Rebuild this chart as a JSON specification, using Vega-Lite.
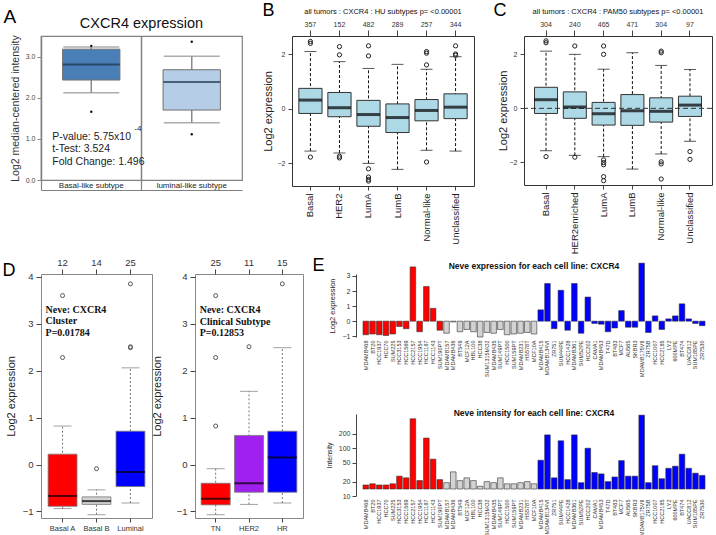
{
"$schema":"https://vega.github.io/schema/vega-lite/v6.json",
"autosize":{"type":"none"},
"padding":{"left":41,"top":36,"right":675,"bottom":499},
"background":"white",
"config":{"font":"Liberation Sans","view":{"stroke":null},"axis":{"labelFont":"Liberation Sans","titleFont":"Liberation Sans","titleFontWeight":"normal","grid":false,"labelColor":"#333","titleColor":"#222","tickColor":"#444","domainColor":"#444"},"title":{"font":"Liberation Sans","fontWeight":"normal","color":"#111","frame":"group"}},
"datasets":{
"A_box":[{"cat":"Basal-like subtype","low":2.12,"q1":2.43,"med":2.81,"q3":3.18,"high":3.23},{"cat":"luminal-like subtype","low":1.39,"q1":1.7,"med":2.38,"q3":2.68,"high":3.01}],
"A_out":[{"cat":"Basal-like subtype","v":3.26},{"cat":"Basal-like subtype","v":1.66},{"cat":"luminal-like subtype","v":3.36},{"cat":"luminal-like subtype","v":1.11}],
"B_box":[{"cat":"Basal","low":-1.55,"q1":-0.17,"med":0.32,"q3":0.75,"high":2.1},{"cat":"HER2","low":-1.62,"q1":-0.29,"med":0.04,"q3":0.6,"high":1.73},{"cat":"LumA","low":-2.0,"q1":-0.64,"med":-0.21,"q3":0.31,"high":1.48},{"cat":"LumB","low":-2.22,"q1":-0.87,"med":-0.32,"q3":0.18,"high":1.63},{"cat":"Normal-like","low":-1.52,"q1":-0.44,"med":-0.06,"q3":0.34,"high":1.45},{"cat":"Unclassified","low":-1.55,"q1":-0.36,"med":0.06,"q3":0.55,"high":1.91}],
"B_out":[{"cat":"Basal","v":2.47},{"cat":"Basal","v":2.4},{"cat":"Basal","v":-1.77},{"cat":"HER2","v":2.28},{"cat":"HER2","v":1.98},{"cat":"HER2","v":-1.74},{"cat":"HER2","v":-1.8},{"cat":"LumA","v":2.31},{"cat":"LumA","v":1.94},{"cat":"LumA","v":-2.2},{"cat":"LumA","v":-2.5},{"cat":"LumA","v":-2.59},{"cat":"LumA","v":-2.65},{"cat":"Normal-like","v":2.1},{"cat":"Normal-like","v":2.04},{"cat":"Normal-like","v":1.61},{"cat":"Normal-like","v":-1.95},{"cat":"Unclassified","v":2.31},{"cat":"Unclassified","v":2.01},{"cat":"Unclassified","v":1.96}],
"C_box":[{"cat":"Basal","low":-1.57,"q1":-0.19,"med":0.32,"q3":0.78,"high":2.12},{"cat":"HER2enriched","low":-1.74,"q1":-0.37,"med":0.05,"q3":0.61,"high":2.0},{"cat":"LumA","low":-1.79,"q1":-0.62,"med":-0.2,"q3":0.22,"high":1.45},{"cat":"LumB","low":-2.25,"q1":-0.63,"med":-0.09,"q3":0.51,"high":2.06},{"cat":"Normal-like","low":-1.69,"q1":-0.51,"med":-0.11,"q3":0.39,"high":1.59},{"cat":"Unclassified","low":-1.22,"q1":-0.3,"med":0.12,"q3":0.45,"high":1.44}],
"C_out":[{"cat":"Basal","v":2.5},{"cat":"Basal","v":2.43},{"cat":"Basal","v":-1.79},{"cat":"HER2enriched","v":2.31},{"cat":"HER2enriched","v":-1.81},{"cat":"LumA","v":2.31},{"cat":"LumA","v":2.0},{"cat":"LumA","v":-1.91},{"cat":"LumA","v":-2.01},{"cat":"LumA","v":-2.09},{"cat":"LumA","v":-2.53},{"cat":"LumA","v":-2.68},{"cat":"Normal-like","v":2.12},{"cat":"Normal-like","v":2.06},{"cat":"Normal-like","v":-1.98},{"cat":"Normal-like","v":-2.06},{"cat":"Normal-like","v":-2.62},{"cat":"Unclassified","v":-1.6},{"cat":"Unclassified","v":-1.89}],
"D1_box":[{"cat":"Basal A","low":-0.94,"q1":-0.89,"med":-0.67,"q3":0.22,"high":0.82},{"cat":"Basal B","low":-1.07,"q1":-0.85,"med":-0.78,"q3":-0.69,"high":-0.54},{"cat":"Luminal","low":-0.82,"q1":-0.47,"med":-0.16,"q3":0.71,"high":2.06}],
"D1_out":[{"cat":"Basal A","v":3.6},{"cat":"Basal A","v":2.28},{"cat":"Basal B","v":-0.09},{"cat":"Luminal","v":3.85},{"cat":"Luminal","v":2.51},{"cat":"Luminal","v":2.49}],
"D2_box":[{"cat":"TN","low":-1.07,"q1":-0.86,"med":-0.73,"q3":-0.4,"high":-0.09},{"cat":"HER2","low":-0.85,"q1":-0.59,"med":-0.4,"q3":0.62,"high":1.56},{"cat":"HR","low":-0.82,"q1":-0.59,"med":0.15,"q3":0.71,"high":2.49}],
"D2_out":[{"cat":"TN","v":3.6},{"cat":"TN","v":2.28},{"cat":"TN","v":0.82},{"cat":"HER2","v":2.51},{"cat":"HR","v":3.85}],
"E":[
{"line":"MDAMB468","group":"Basal A","expr":-0.9,"inten":17},
{"line":"BT20","group":"Basal A","expr":-0.85,"inten":18},
{"line":"HCC1937","group":"Basal A","expr":-0.9,"inten":17},
{"line":"HCC70","group":"Basal A","expr":-0.95,"inten":17},
{"line":"SUM225","group":"Basal A","expr":-0.85,"inten":18},
{"line":"HCC3153","group":"Basal A","expr":-0.35,"inten":26},
{"line":"HCC1569","group":"Basal A","expr":-0.5,"inten":24},
{"line":"HCC2157","group":"Basal A","expr":3.6,"inten":413},
{"line":"HCC1954","group":"Basal A","expr":-0.7,"inten":21},
{"line":"HCC1187","group":"Basal A","expr":2.3,"inten":163},
{"line":"HCC1143","group":"Basal A","expr":0.85,"inten":59},
{"line":"SUM190PT","group":"Basal A","expr":-0.6,"inten":22},
{"line":"MDAMB157","group":"Basal B","expr":-0.8,"inten":19},
{"line":"MDAMB436","group":"Basal B","expr":-0.05,"inten":32},
{"line":"BT549","group":"Basal B","expr":-0.7,"inten":21},
{"line":"MCF12A","group":"Basal B","expr":-0.55,"inten":24},
{"line":"HBL100","group":"Basal B","expr":-0.7,"inten":21},
{"line":"HCC38","group":"Basal B","expr":-1.05,"inten":16},
{"line":"SUM1315MO2","group":"Basal B","expr":-0.75,"inten":20},
{"line":"MDAMB435","group":"Basal B","expr":-0.8,"inten":19},
{"line":"SUM149PT","group":"Basal B","expr":-0.55,"inten":24},
{"line":"HCC1500","group":"Basal B","expr":-0.9,"inten":18},
{"line":"SUM159PT","group":"Basal B","expr":-0.85,"inten":18},
{"line":"MDAMB231","group":"Basal B","expr":-0.8,"inten":19},
{"line":"HS578T","group":"Basal B","expr":-0.75,"inten":20},
{"line":"MCF10A","group":"Basal B","expr":-0.85,"inten":18},
{"line":"MDAMB415","group":"Luminal","expr":0.75,"inten":56},
{"line":"MDAMB134VI","group":"Luminal","expr":2.5,"inten":190},
{"line":"ZR751","group":"Luminal","expr":-0.5,"inten":24},
{"line":"SUM44PE","group":"Luminal","expr":2.05,"inten":143},
{"line":"HCC1428","group":"Luminal","expr":-0.6,"inten":22},
{"line":"MDAMB361","group":"Luminal","expr":2.5,"inten":190},
{"line":"SUM52PE","group":"Luminal","expr":-0.8,"inten":19},
{"line":"HCC202","group":"Luminal","expr":1.6,"inten":100},
{"line":"CAMA1","group":"Luminal","expr":-0.15,"inten":31},
{"line":"MDAMB453","group":"Luminal","expr":-0.2,"inten":29},
{"line":"T47D","group":"Luminal","expr":-0.7,"inten":20},
{"line":"BT483","group":"Luminal","expr":-0.45,"inten":25},
{"line":"MCF7","group":"Luminal","expr":0.7,"inten":55},
{"line":"AU565","group":"Luminal","expr":-0.4,"inten":26},
{"line":"SKBR3","group":"Luminal","expr":-0.4,"inten":26},
{"line":"MDAMB175VII","group":"Luminal","expr":3.85,"inten":492},
{"line":"ZR75B","group":"Luminal","expr":-0.75,"inten":19},
{"line":"HCC1007","group":"Luminal","expr":0.35,"inten":43},
{"line":"HCC2185","group":"Luminal","expr":-0.55,"inten":23},
{"line":"LY2","group":"Luminal","expr":0.15,"inten":38},
{"line":"600MPE","group":"Luminal","expr":0.35,"inten":42},
{"line":"BT474","group":"Luminal","expr":1.15,"inten":75},
{"line":"UACC812","group":"Luminal","expr":0.15,"inten":38},
{"line":"SUM185PE","group":"Luminal","expr":-0.15,"inten":30},
{"line":"ZR7530","group":"Luminal","expr":-0.3,"inten":27}
]},
"resolve":{"scale":{"color":"independent"}},
"bounds":"flush",
"spacing":238,
"vconcat":[
{"hconcat":[
{"width":201,"height":144,"view":{"stroke":"#808080","strokeWidth":1.2},
 "title":{"text":"CXCR4 expression","fontSize":14.5,"offset":3},
 "resolve":{"axis":{"x":"independent"}},
 "layer":[
  {"data":{"name":"A_box"},"mark":{"type":"rule","color":"#8a8a8a","strokeWidth":1.5},
   "encoding":{
    "x":{"field":"cat","type":"nominal","scale":{"paddingInner":0.43,"paddingOuter":0.215},
      "axis":{"title":null,"labelAngle":0,"labelFontSize":8,"labelColor":"#222","bandPosition":-0.377,"labelPadding":-9,"tickSize":10,"tickColor":"#808080","tickWidth":1.2,"domainColor":"#808080","grid":true,"gridColor":"#808080","gridWidth":1.5}},
    "y":{"field":"low","type":"quantitative","scale":{"domain":[0,3.5],"nice":false,"zero":false},
      "axis":{"title":"Log2 median-centered intensity","titleFontSize":10.5,"titleColor":"#333","values":[0,0.5,1,1.5,2,2.5,3,3.5],"format":".1f","labelFontSize":7,"labelColor":"#444","tickSize":4,"tickColor":"#888","domain":false,"labelPadding":2,"titlePadding":5}},
    "y2":{"field":"high"}}},
  {"data":{"name":"A_box"},"mark":{"type":"tick","color":"#8a8a8a","size":56,"thickness":1.5},
   "encoding":{"x":{"field":"cat","type":"nominal","axis":null},"y":{"field":"low","type":"quantitative"}}},
  {"data":{"name":"A_box"},"mark":{"type":"tick","color":"#8a8a8a","size":56,"thickness":1.5},
   "encoding":{"x":{"field":"cat","type":"nominal","axis":null},"y":{"field":"high","type":"quantitative"}}},
  {"data":{"name":"A_box"},"mark":{"type":"bar","stroke":"#707070","strokeWidth":1},
   "encoding":{"x":{"field":"cat","type":"nominal","axis":null},"y":{"field":"q1","type":"quantitative"},"y2":{"field":"q3"},
    "color":{"field":"cat","type":"nominal","scale":{"range":["#4a7eb6","#b5cde6"]},"legend":null}}},
  {"data":{"name":"A_box"},"mark":{"type":"tick","color":"#1b3047","size":57,"thickness":2},
   "encoding":{"x":{"field":"cat","type":"nominal","axis":null},"y":{"field":"med","type":"quantitative"}}},
  {"data":{"name":"A_out"},"mark":{"type":"point","filled":true,"color":"#111","size":6,"opacity":1},
   "encoding":{"x":{"field":"cat","type":"nominal","axis":{"orient":"bottom","offset":10,"title":null,"labels":false,"ticks":false,"domain":true,"domainColor":"#808080","domainWidth":1.2,"grid":false}},"y":{"field":"v","type":"quantitative"}}},
  {"data":{"values":[{"t":["P-value: 5.75x10","t-Test: 3.524","Fold Change: 1.496"]}]},
   "mark":{"type":"text","align":"left","baseline":"alphabetic","fontSize":10.5,"lineHeight":12.4,"dx":-39,"color":"#222"},
   "encoding":{"x":{"datum":"Basal-like subtype","type":"nominal","axis":null},"y":{"datum":0.972,"type":"quantitative"},"text":{"field":"t"}}},
  {"data":{"values":[{"t":"-4"}]},
   "mark":{"type":"text","align":"left","baseline":"alphabetic","fontSize":8,"dx":43,"color":"#222"},
   "encoding":{"x":{"datum":"Basal-like subtype","type":"nominal","axis":null},"y":{"datum":1.18,"type":"quantitative"},"text":{"field":"t"}}}
 ]},
{"width":182,"height":150,"view":{"stroke":"#333"},
 "title":{"text":"all tumors : CXCR4 : HU subtypes p= <0.00001","fontSize":7.5,"offset":4.5},
 "resolve":{"axis":{"x":"independent"}},
 "layer":[
  {"data":{"name":"B_box"},"mark":{"type":"rule","color":"#111","strokeDash":[3,2]},
   "encoding":{
    "x":{"field":"cat","type":"nominal","scale":{"paddingInner":0.2,"paddingOuter":0.235},
      "axis":{"title":null,"labelAngle":-90,"labelFontSize":9.5,"labelColor":"#222","tickSize":4,"domain":false,"labelPadding":3}},
    "y":{"field":"low","type":"quantitative","scale":{"domain":[-2.83,2.67],"nice":false,"zero":false},
      "axis":{"title":"Log2 expression","titleFontSize":11,"values":[-2,-1,0,1,2],"labelFontSize":7,"tickSize":4,"domain":false,"labelPadding":3,"titlePadding":4}},
    "y2":{"field":"high"}}},
  {"data":{"name":"B_box"},"mark":{"type":"tick","color":"#111","size":12,"thickness":1},
   "encoding":{"x":{"field":"cat","type":"nominal","axis":null},"y":{"field":"low","type":"quantitative"}}},
  {"data":{"name":"B_box"},"mark":{"type":"tick","color":"#111","size":12,"thickness":1},
   "encoding":{"x":{"field":"cat","type":"nominal","axis":null},"y":{"field":"high","type":"quantitative"}}},
  {"data":{"name":"B_box"},"mark":{"type":"bar","fill":"#add8e6","stroke":"#333","strokeWidth":1},
   "encoding":{"x":{"field":"cat","type":"nominal","axis":null},"y":{"field":"q1","type":"quantitative"},"y2":{"field":"q3"}}},
  {"data":{"name":"B_box"},"mark":{"type":"tick","color":"#000","size":23,"thickness":3},
   "encoding":{"x":{"field":"cat","type":"nominal",
     "axis":{"orient":"top","title":null,"labelExpr":"datum.value=='Basal'?'357':datum.value=='HER2'?'152':datum.value=='LumA'?'482':datum.value=='LumB'?'289':datum.value=='Normal-like'?'257':'344'","labelAngle":0,"labelFontSize":7,"tickSize":6,"domain":false,"labelPadding":3}},
    "y":{"field":"med","type":"quantitative"}}},
  {"data":{"name":"B_out"},"mark":{"type":"point","filled":false,"color":"#222","size":18,"strokeWidth":1,"opacity":1},
   "encoding":{"x":{"field":"cat","type":"nominal","axis":null},"y":{"field":"v","type":"quantitative"}}}
 ]},
{"width":188,"height":149,"view":{"stroke":"#333"},
 "title":{"text":"all tumors : CXCR4 : PAM50 subtypes p= <0.00001","fontSize":7.5,"offset":4.5},
 "resolve":{"axis":{"x":"independent"}},
 "layer":[
  {"data":{"name":"C_box"},"mark":{"type":"rule","color":"#111","strokeDash":[3,2]},
   "encoding":{
    "x":{"field":"cat","type":"nominal","scale":{"paddingInner":0.2,"paddingOuter":0.365},
      "axis":{"title":null,"labelAngle":-90,"labelFontSize":9.5,"labelColor":"#222","tickSize":4,"domain":false,"labelPadding":3}},
    "y":{"field":"low","type":"quantitative","scale":{"domain":[-2.84,2.68],"nice":false,"zero":false},
      "axis":{"title":"Log2 expression","titleFontSize":11,"values":[-2,-1,0,1,2],"labelFontSize":7,"tickSize":4,"domain":false,"labelPadding":3,"titlePadding":1}},
    "y2":{"field":"high"}}},
  {"data":{"name":"C_box"},"mark":{"type":"tick","color":"#111","size":12,"thickness":1},
   "encoding":{"x":{"field":"cat","type":"nominal","axis":null},"y":{"field":"low","type":"quantitative"}}},
  {"data":{"name":"C_box"},"mark":{"type":"tick","color":"#111","size":12,"thickness":1},
   "encoding":{"x":{"field":"cat","type":"nominal","axis":null},"y":{"field":"high","type":"quantitative"}}},
  {"data":{"name":"C_box"},"mark":{"type":"bar","fill":"#add8e6","stroke":"#333","strokeWidth":1},
   "encoding":{"x":{"field":"cat","type":"nominal","axis":null},"y":{"field":"q1","type":"quantitative"},"y2":{"field":"q3"}}},
  {"data":{"values":[{}]},"mark":{"type":"rule","color":"#333","strokeDash":[5,3]},
   "encoding":{"y":{"datum":0,"type":"quantitative"}}},
  {"data":{"name":"C_box"},"mark":{"type":"tick","color":"#000","size":23,"thickness":3},
   "encoding":{"x":{"field":"cat","type":"nominal",
     "axis":{"orient":"top","title":null,"labelExpr":"datum.value=='Basal'?'304':datum.value=='HER2enriched'?'240':datum.value=='LumA'?'465':datum.value=='LumB'?'471':datum.value=='Normal-like'?'304':'97'","labelAngle":0,"labelFontSize":7,"tickSize":6,"domain":false,"labelPadding":3}},
    "y":{"field":"med","type":"quantitative"}}},
  {"data":{"name":"C_out"},"mark":{"type":"point","filled":false,"color":"#222","size":18,"strokeWidth":1,"opacity":1},
   "encoding":{"x":{"field":"cat","type":"nominal","axis":null},"y":{"field":"v","type":"quantitative"}}}
 ]}
],"spacing":50,"bounds":"flush","resolve":{"scale":{"color":"independent"}}},
{"hconcat":[
 {"hconcat":[
  {"width":111,"height":244,"view":{"stroke":"#888"},
   "resolve":{"axis":{"x":"independent"}},
   "layer":[
    {"data":{"name":"D1_box"},"mark":{"type":"rule","color":"#777","strokeDash":[2,2]},
     "encoding":{
      "x":{"field":"cat","type":"nominal","scale":{"paddingInner":0.15,"paddingOuter":0.21},
        "axis":{"title":"A","titleX":-38,"titleY":-496,"titleAngle":0,"titleAlign":"left","titleBaseline":"alphabetic","titleFontSize":19,"titleColor":"#000","labelAngle":0,"labelFontSize":7.5,"labelColor":"#333","tickSize":4,"domain":false,"labelPadding":2}},
      "y":{"field":"low","type":"quantitative","scale":{"domain":[-1.14,4.06],"nice":false,"zero":false},
        "axis":{"title":"Log2 expression","titleFontSize":11,"values":[-1,0,1,2,3,4],"labelFontSize":9.5,"tickSize":5,"domain":false,"labelPadding":3,"titlePadding":6}},
      "y2":{"field":"high"}}},
    {"data":{"name":"D1_box"},"mark":{"type":"tick","color":"#777","size":18,"thickness":1},
     "encoding":{"x":{"field":"cat","type":"nominal","axis":null},"y":{"field":"low","type":"quantitative"}}},
    {"data":{"name":"D1_box"},"mark":{"type":"tick","color":"#777","size":18,"thickness":1},
     "encoding":{"x":{"field":"cat","type":"nominal","axis":null},"y":{"field":"high","type":"quantitative"}}},
    {"data":{"name":"D1_box"},"mark":{"type":"bar","stroke":"#777","strokeWidth":0.8},
     "encoding":{"x":{"field":"cat","type":"nominal","axis":null},"y":{"field":"q1","type":"quantitative"},"y2":{"field":"q3"},
      "color":{"field":"cat","type":"nominal","scale":{"domain":["Basal A","Basal B","Luminal"],"range":["#ff0000","#d3d3d3","#0000ff"]},"legend":null}}},
    {"data":{"name":"D1_box"},"mark":{"type":"tick","color":"#000","size":29,"thickness":2},
     "encoding":{"x":{"field":"cat","type":"nominal",
       "axis":{"orient":"top","title":"D","titleX":-39,"titleY":1,"titleAngle":0,"titleAlign":"left","titleBaseline":"alphabetic","titleFontSize":18,"titleColor":"#000","labelExpr":"datum.value=='Basal A'?'12':datum.value=='Basal B'?'14':'25'","labelAngle":0,"labelFontSize":9.5,"tickSize":5,"domain":false,"labelPadding":2}},
      "y":{"field":"med","type":"quantitative"}}},
    {"data":{"name":"D1_out"},"mark":{"type":"point","filled":false,"color":"#555","size":16,"strokeWidth":1,"opacity":1},
     "encoding":{"x":{"field":"cat","type":"nominal","axis":null},"y":{"field":"v","type":"quantitative"}}},
    {"data":{"values":[{"t":["Neve: CXCR4","Cluster","P=0.01784"]}]},
     "mark":{"type":"text","align":"left","baseline":"alphabetic","font":"Liberation Serif","fontWeight":"bold","fontSize":10,"lineHeight":11.3,"dx":-17,"color":"#111"},
     "encoding":{"x":{"datum":"Basal A","type":"nominal","axis":null},"y":{"datum":3.23,"type":"quantitative"},"text":{"field":"t"}}}
   ]},
  {"width":108,"height":244,"view":{"stroke":"#888"},
   "resolve":{"axis":{"x":"independent","y":"independent"}},
   "layer":[
    {"data":{"name":"D2_box"},"mark":{"type":"rule","color":"#777","strokeDash":[2,2]},
     "encoding":{
      "x":{"field":"cat","type":"nominal","sort":["TN","HER2","HR"],"scale":{"paddingInner":0.13,"paddingOuter":0.185},
        "axis":{"title":"B","titleX":67,"titleY":-503,"titleAngle":0,"titleAlign":"left","titleBaseline":"alphabetic","titleFontSize":18,"titleColor":"#000","labelAngle":0,"labelFontSize":7.5,"labelColor":"#333","tickSize":4,"domain":false,"labelPadding":2}},
      "y":{"field":"low","type":"quantitative","scale":{"domain":[-1.14,4.06],"nice":false,"zero":false},
        "axis":{"title":"Log2 expression","titleFontSize":11,"values":[-1,0,1,2,3,4],"labelFontSize":9.5,"tickSize":5,"domain":false,"labelPadding":3,"titlePadding":14}},
      "y2":{"field":"high"}}},
    {"data":{"name":"D2_box"},"mark":{"type":"tick","color":"#777","size":18,"thickness":1},
     "encoding":{"x":{"field":"cat","type":"nominal","sort":["TN","HER2","HR"],"axis":null},"y":{"field":"low","type":"quantitative","axis":null}}},
    {"data":{"name":"D2_box"},"mark":{"type":"tick","color":"#777","size":18,"thickness":1},
     "encoding":{"x":{"field":"cat","type":"nominal","sort":["TN","HER2","HR"],"axis":null},"y":{"field":"high","type":"quantitative","axis":null}}},
    {"data":{"name":"D2_box"},"mark":{"type":"bar","stroke":"#777","strokeWidth":0.8},
     "encoding":{"x":{"field":"cat","type":"nominal","sort":["TN","HER2","HR"],"axis":null},"y":{"field":"q1","type":"quantitative","axis":null},"y2":{"field":"q3"},
      "color":{"field":"cat","type":"nominal","scale":{"domain":["TN","HER2","HR"],"range":["#ff0000","#a020f0","#0000ff"]},"legend":null}}},
    {"data":{"name":"D2_box"},"mark":{"type":"tick","color":"#000","size":29,"thickness":2},
     "encoding":{"x":{"field":"cat","type":"nominal","sort":["TN","HER2","HR"],
       "axis":{"orient":"top","title":"E","titleX":117,"titleY":-4,"titleAngle":0,"titleAlign":"left","titleBaseline":"alphabetic","titleFontSize":18,"titleColor":"#000","labelExpr":"datum.value=='TN'?'25':datum.value=='HER2'?'11':'15'","labelAngle":0,"labelFontSize":9.5,"tickSize":5,"domain":false,"labelPadding":2}},
      "y":{"field":"med","type":"quantitative","axis":null}}},
    {"data":{"name":"D2_out"},"mark":{"type":"point","filled":false,"color":"#555","size":16,"strokeWidth":1,"opacity":1},
     "encoding":{"x":{"field":"cat","type":"nominal","sort":["TN","HER2","HR"],"axis":null},
      "y":{"field":"v","type":"quantitative","axis":{"orient":"right","title":"C","titleX":190,"titleY":-259,"titleAngle":0,"titleAlign":"left","titleBaseline":"alphabetic","titleFontSize":18,"titleColor":"#000","labels":false,"ticks":false,"domain":false,"grid":false}}}},
    {"data":{"values":[{"t":["Neve: CXCR4","Clinical Subtype","P=0.12853"]}]},
     "mark":{"type":"text","align":"left","baseline":"alphabetic","font":"Liberation Serif","fontWeight":"bold","fontSize":10,"lineHeight":11.3,"dx":-16,"color":"#111"},
     "encoding":{"x":{"datum":"TN","type":"nominal","axis":null},"y":{"datum":3.22,"type":"quantitative","axis":null},"text":{"field":"t"}}}
   ]}
 ],"spacing":43,"bounds":"flush","resolve":{"scale":{"color":"independent"}}},
 {"vconcat":[
  {"width":348,"height":63,"data":{"name":"E"},
   "title":{"text":"Neve  expression for each cell line: CXCR4","fontSize":8.5,"fontWeight":"bold","offset":-7.9},
   "mark":{"type":"bar","stroke":"#333","strokeWidth":0.6},
   "encoding":{
    "x":{"field":"line","type":"nominal","sort":null,"scale":{"paddingInner":0.17,"paddingOuter":0.446},
      "axis":{"title":null,"labelAngle":-90,"labelFontSize":5.5,"labelColor":"#333","ticks":false,"domain":false,"labelPadding":3}},
    "y":{"field":"expr","type":"quantitative","scale":{"domain":[-1.05,3.13],"nice":false,"zero":false},
      "axis":{"title":"Log2 expression","titleFontSize":7.5,"values":[-1,0,1,2,3],"labelFontSize":7,"tickSize":4,"labelPadding":2,"offset":4,"titlePadding":6}},
    "y2":{"datum":0},
    "color":{"field":"group","type":"nominal","scale":{"domain":["Basal A","Basal B","Luminal"],"range":["#ff0000","#d3d3d3","#0000ff"]},"legend":null}}},
  {"width":348,"height":82,"data":{"name":"E"},
   "title":{"text":"Neve  intensity for each cell line: CXCR4","fontSize":8.5,"fontWeight":"bold","offset":-3.7},
   "mark":{"type":"bar","stroke":"#333","strokeWidth":0.6},
   "encoding":{
    "x":{"field":"line","type":"nominal","sort":null,"scale":{"paddingInner":0.17,"paddingOuter":0.446},
      "axis":{"title":null,"labelAngle":-90,"labelFontSize":5.5,"labelColor":"#333","ticks":false,"domain":false,"labelPadding":3}},
    "y":{"field":"inten","type":"quantitative","scale":{"type":"log","domain":[10,520],"nice":false},
      "axis":{"title":"Intensity","titleFontSize":7,"values":[10,20,50,100,200],"labelFontSize":7,"tickSize":4,"labelPadding":2,"offset":4,"titlePadding":6}},
    "y2":{"datum":14},
    "color":{"field":"group","type":"nominal","scale":{"domain":["Basal A","Basal B","Luminal"],"range":["#ff0000","#d3d3d3","#0000ff"]},"legend":null}}}
 ],"spacing":77,"bounds":"flush","resolve":{"scale":{"color":"independent"}}}
],"spacing":319,"bounds":"flush","resolve":{"scale":{"color":"independent"}}}
]
}
